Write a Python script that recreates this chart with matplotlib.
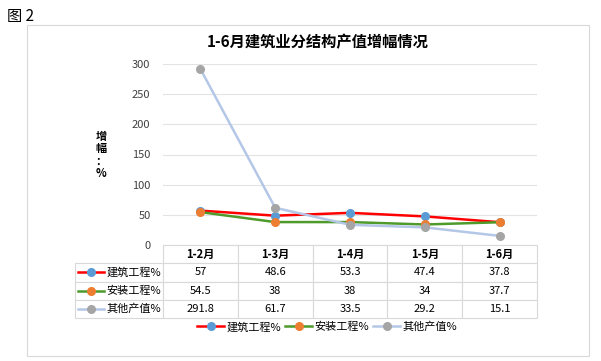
import matplotlib
matplotlib.use('Agg')
import matplotlib.pyplot as plt
from matplotlib.lines import Line2D
from matplotlib.patches import Rectangle

plt.rcParams['font.family'] = ['Noto Sans CJK SC', 'DejaVu Sans']

# data
months = ['1-2月', '1-3月', '1-4月', '1-5月', '1-6月']
names = ['建筑工程%', '安装工程%', '其他产值%']
jianzhu = [57, 48.6, 53.3, 47.4, 37.8]
anzhuang = [54.5, 38, 38, 34, 37.7]
qita = [291.8, 61.7, 33.5, 29.2, 15.1]
yticks = [0, 50, 100, 150, 200, 250, 300]

series = [jianzhu, anzhuang, qita]
line_colors = ['#FF0000', '#4E9A2A', '#B4C7E7']
marker_colors = ['#5B9BD5', '#ED7D31', '#A5A5A5']

W, H = 601, 361
fig = plt.figure(figsize=(W / 100, H / 100), dpi=100)

# outer chart frame
fig.patches.append(Rectangle((27 / W, 1 - 356 / H), (589 - 27) / W, (356 - 25) / H,
                             transform=fig.transFigure, fill=False,
                             edgecolor='#D9D9D9', linewidth=0.8))
fig.text(7 / W, 1 - 17 / H, '图 2', fontsize=11, va='center', ha='left')
fig.text(318 / W, 1 - 42 / H, '1-6月建筑业分结构产值增幅情况', fontsize=11,
         fontweight='bold', ha='center', va='center')

ax = fig.add_axes([163 / W, 1 - 245 / H, 374 / W, 181 / H])
x = list(range(len(months)))
for vals, lc, mc in zip(series, line_colors, marker_colors):
    ax.plot(x, vals, color=lc, linewidth=1.8, marker='o', markersize=5.5,
            markerfacecolor=mc, markeredgecolor=mc, clip_on=False, zorder=3)

ax.set_xlim(-0.5, len(months) - 0.5)
ax.set_ylim(0, 300)
ax.set_yticks(yticks)
ax.tick_params(axis='y', length=0, pad=9, labelsize=8, labelcolor='#404040')
ax.set_xticks([])
ax.grid(axis='y', color='#E3E3E3', linewidth=0.8)
ax.set_axisbelow(True)
for s in ax.spines.values():
    s.set_visible(False)

fig.text(101 / W, 1 - 155 / H, '增\n幅\n：\n%', fontsize=8, fontweight='bold',
         ha='center', va='center', linespacing=0.95)

# data table under the plot
cell_text = [[''] + [f'{v:g}' for v in vals] for vals in series]
label_w = 88 / 374
tbl = ax.table(cellText=cell_text, colLabels=[''] + months, cellLoc='center',
               colWidths=[label_w] + [1 / len(months)] * len(months),
               bbox=[-label_w, -73 / 181, 1 + label_w, 73 / 181])
tbl.auto_set_font_size(False)
for (r, c), cell in tbl.get_celld().items():
    cell.set_edgecolor('#D9D9D9')
    cell.set_linewidth(0.8)
    cell.get_text().set_fontsize(8)
    if r == 0:
        cell.get_text().set_fontweight('bold')
        if c == 0:
            cell.visible_edges = ''

# row labels with legend keys
row_h = 73 / 181 / 4
for i, (name, lc, mc) in enumerate(zip(names, line_colors, marker_colors)):
    yc = -row_h * (i + 1.5)
    ax.plot([(78 - 163) / 374, (104 - 163) / 374], [yc, yc], transform=ax.transAxes,
            color=lc, linewidth=1.8, clip_on=False)
    ax.plot([(91 - 163) / 374], [yc], transform=ax.transAxes, marker='o',
            markersize=5.5, color=mc, clip_on=False)
    ax.text((161 - 163) / 374, yc, name, transform=ax.transAxes, fontsize=8,
            ha='right', va='center')

handles = [Line2D([], [], color=lc, linewidth=1.8, marker='o', markersize=5.5,
                  markerfacecolor=mc, markeredgecolor=mc)
           for lc, mc in zip(line_colors, marker_colors)]
fig.legend(handles, names, loc='center', bbox_to_anchor=(327 / W, 1 - 327 / H),
           ncol=3, frameon=False, fontsize=8, handlelength=2.4, handletextpad=0.2,
           columnspacing=0.4)

fig.savefig('out.png', dpi=100)
